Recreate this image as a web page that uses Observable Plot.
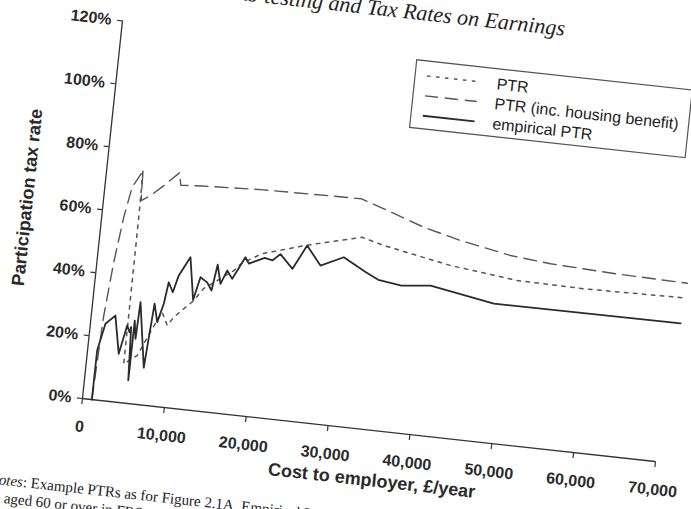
<!DOCTYPE html>
<html>
<head>
<meta charset="utf-8">
<script src="https://cdn.jsdelivr.net/npm/d3@7"></script>
<script src="https://cdn.jsdelivr.net/npm/@observablehq/plot@0.6"></script>
<style>
  html, body { margin: 0; padding: 0; background: #fff; width: 691px; height: 509px; overflow: hidden; }
  #page {
    position: absolute; left: 0; top: 0; width: 760px; height: 580px;
    transform-origin: 0 0;
    transform: matrix(0.9948, 0.1094, -0.1053, 0.9939, 17.85, -41.41);
  }
  #chart { position: absolute; left: 0; top: 0; }
  #overlay { position: absolute; left: 0; top: 0; overflow: visible; }
</style>
</head>
<body>
<div id="page">
  <div id="chart"></div>
  <svg id="overlay" width="760" height="580"></svg>
</div>
<script>
// ---- data ----
const titleText = "Means-testing and Tax Rates on Earnings";
const xLabel = "Cost to employer, £/year";
const yLabel = "Participation tax rate";
const xTicks = [0, 10000, 20000, 30000, 40000, 50000, 60000, 70000];
const yTicks = [0, 20, 40, 60, 80, 100, 120];
const seriesNames = ["PTR", "PTR (inc. housing benefit)", "empirical PTR"];
const notesLine1 = ["Notes", ": Example PTRs as for Figure 2.1A. Empirical PTRs"];
const notesLine2 = "aged 60 or over in FRS";

// PTR (dotted)
const ptrCost = [4400, 4480, 4540, 6060, 7530, 8520, 9300, 9990, 11270, 12190, 13210, 14760, 16640, 17500, 19850, 24980, 31720, 34400, 42750, 51000, 59140, 71340];
const ptrRate = [73.5, 60, 12.3, 15.4, 24.3, 29.9, 25.9, 28.7, 32.2, 34.6, 38.7, 41.7, 45.4, 48.0, 51.7, 55.8, 60.3, 58.5, 54.5, 52.1, 51.8, 52.4];

// PTR incl. housing benefit (dashed)
const hbCost = [1150, 1500, 2020, 2670, 3300, 4400, 4550, 5620, 7100, 8850, 9150, 11730, 19230, 31100, 33970, 39030, 43640, 49870, 54800, 62990, 71570];
const hbRate = [0, 26.2, 43.5, 58.4, 68.1, 73.5, 64.2, 66.1, 69.7, 74.3, 70.4, 70.9, 71.8, 72.4, 70.0, 65.6, 62.7, 59.7, 58.5, 57.6, 57.1];

// empirical PTR (solid)
const empCost = [1150, 1160, 1820, 2920, 3810, 4470, 4830, 4970, 5300, 5320, 5640, 5780, 7010, 7160, 7500, 8050, 8610, 8935, 9550, 10060, 11240, 12100, 12700, 13570, 14200, 14620, 15200, 15840, 16550, 17880, 18370, 20200, 21200, 22070, 23700, 25180, 27040, 29750, 32570, 34200, 36970, 40590, 48470, 71270];
const empRate = [0, 15.6, 24.3, 27.2, 15.3, 24.5, 22.5, 24.1, 7.3, 26.3, 20.6, 32.3, 11.8, 18.3, 32.3, 26.6, 32.6, 39.5, 36.5, 42.0, 48.1, 34.8, 42.2, 40.8, 38.4, 46.7, 40.8, 45.2, 42.8, 50.0, 48.1, 50.5, 50.0, 52.2, 48.0, 55.8, 50.0, 53.4, 49.5, 47.5, 46.5, 47.5, 44.0, 44.3];

const toRows = (xs, ys) => xs.map((x, i) => ({cost: x, rate: ys[i]}));
const ptrRows = toRows(ptrCost, ptrRate);
const hbRows = toRows(hbCost, hbRate);
const empRows = toRows(empCost, empRate);

const ink = "#2a2a2a";
const styles = {
  ptr: {stroke: "#555", strokeWidth: 1.5, strokeDasharray: "3.5,5.5"},
  hb: {stroke: "#555", strokeWidth: 1.4, strokeDasharray: "13,7"},
  emp: {stroke: "#2b2b2b", strokeWidth: 1.8}
};

const chart = Plot.plot({
  width: 716, height: 500,
  marginLeft: 110, marginRight: 30, marginTop: 50, marginBottom: 70,
  style: {fontFamily: '"Liberation Sans", Arial, sans-serif', fontSize: "16px", fontWeight: "bold", color: ink, background: "transparent", overflow: "visible"},
  x: {domain: [0, 70000], label: null},
  y: {domain: [0, 120], label: null},
  marks: [
    Plot.axisX({ticks: xTicks, tickFormat: d3.format(","), tickSize: 6, tickPadding: 16, label: null, stroke: "#333", strokeWidth: 1.2}),
    Plot.axisY({ticks: yTicks, tickFormat: d => d + "%", tickSize: 5, tickPadding: 6, label: null, stroke: "#333", strokeWidth: 1.2}),
    Plot.ruleY([0], {stroke: "#333", strokeWidth: 1.3}),
    Plot.ruleX([0], {stroke: "#333", strokeWidth: 1.3}),
    Plot.line(ptrRows, {x: "cost", y: "rate", ...styles.ptr}),
    Plot.line(hbRows, {x: "cost", y: "rate", ...styles.hb}),
    Plot.line(empRows, {x: "cost", y: "rate", ...styles.emp}),
    Plot.text([yLabel], {text: d => d, frameAnchor: "left", textAnchor: "middle", lineAnchor: "middle", dx: -76, dy: -4, rotate: -90, fontSize: 18, fontWeight: "bold", fill: ink}),
    Plot.text([xLabel], {text: d => d, frameAnchor: "bottom", textAnchor: "middle", lineAnchor: "middle", dx: 8, dy: 50, fontSize: 18, fontWeight: "bold", fill: ink})
  ]
});
document.getElementById("chart").appendChild(chart);

// ---- overlay: title, legend, notes ----
const svg = d3.select("#overlay");
svg.append("text")
  .attr("x", 551).attr("y", 17)
  .attr("text-anchor", "end")
  .attr("font-family", '"Liberation Serif", "Times New Roman", serif')
  .attr("font-style", "italic").attr("font-size", 22).attr("fill", "#222")
  .text(titleText);

const lg = svg.append("g");
lg.append("rect").attr("x", 407).attr("y", 57).attr("width", 277).attr("height", 68)
  .attr("fill", "white").attr("stroke", "#555").attr("stroke-width", 1.2);
const keys = ["ptr", "hb", "emp"];
seriesNames.forEach((name, i) => {
  const y = 72 + i * 20;
  const s = styles[keys[i]];
  lg.append("line").attr("x1", 419).attr("x2", 471).attr("y1", y).attr("y2", y)
    .attr("stroke", s.stroke).attr("stroke-width", s.strokeWidth)
    .attr("stroke-dasharray", s.strokeDasharray || null);
  lg.append("text").attr("x", 489).attr("y", y).attr("dy", "0.35em")
    .attr("font-family", '"Liberation Sans", Arial, sans-serif')
    .attr("font-size", 16).attr("fill", "#222").text(name);
});

const notes = svg.append("g")
  .attr("font-family", '"Liberation Serif", "Times New Roman", serif')
  .attr("font-size", 15).attr("fill", "#222");
const n1 = notes.append("text").attr("x", 26).attr("y", 525);
n1.append("tspan").attr("font-style", "italic").text(notesLine1[0]);
n1.append("tspan").text(notesLine1[1]);
notes.append("text").attr("x", 43).attr("y", 543).text(notesLine2);
</script>
</body>
</html>
